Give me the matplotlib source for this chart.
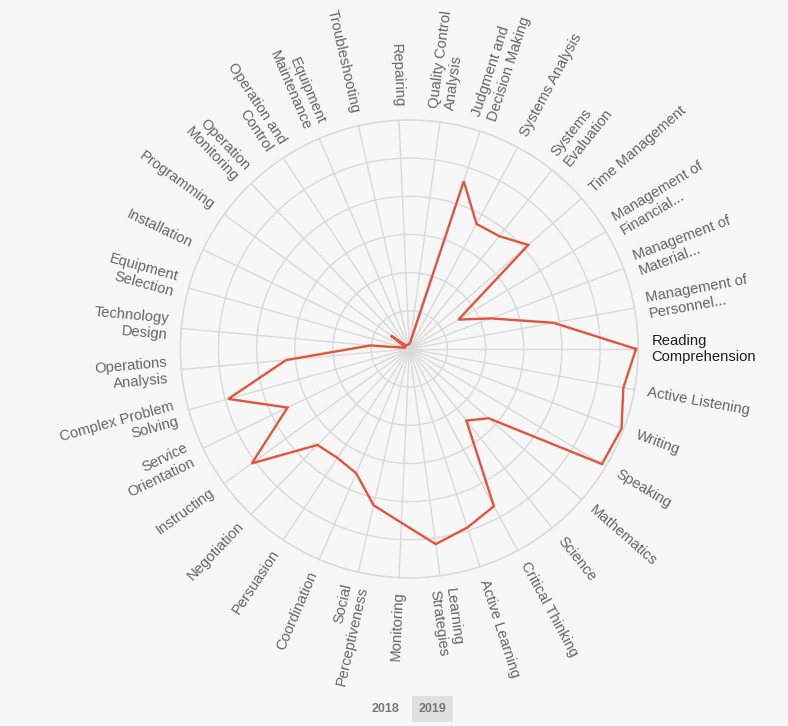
import numpy as np
import matplotlib
matplotlib.use('Agg')
import matplotlib.pyplot as plt

# skills, clockwise starting from the right
skills = ['Reading\nComprehension', 'Active Listening', 'Writing', 'Speaking', 'Mathematics',
          'Science', 'Critical Thinking', 'Active Learning', 'Learning\nStrategies', 'Monitoring',
          'Social\nPerceptiveness', 'Coordination', 'Persuasion', 'Negotiation', 'Instructing',
          'Service\nOrientation', 'Complex Problem\nSolving', 'Operations\nAnalysis',
          'Technology\nDesign', 'Equipment\nSelection', 'Installation', 'Programming',
          'Operation\nMonitoring', 'Operation and\nControl', 'Equipment\nMaintenance',
          'Troubleshooting', 'Repairing', 'Quality Control\nAnalysis',
          'Judgment and\nDecision Making', 'Systems Analysis', 'Systems\nEvaluation',
          'Time Management', 'Management of\nFinancial...', 'Management of\nMaterial...',
          'Management of\nPersonnel...']

# 2019 scores, as a fraction of the outer ring
values_2019 = [0.99, 0.95, 0.99, 0.98, 0.46,
               0.40, 0.78, 0.82, 0.86, 0.76,
               0.70, 0.59, 0.57, 0.58, 0.85,
               0.59, 0.82, 0.54, 0.17, 0.02,
               0.02, 0.10, 0.02, 0.02, 0.02,
               0.02, 0.02, 0.03, 0.77, 0.62,
               0.63, 0.69, 0.25, 0.38, 0.64]

years = ['2018', '2019']
active_year = '2019'

bg = '#f7f7f7'
grid_col = '#dadada'
line_col = '#e5533c'

fig = plt.figure(figsize=(7.88, 7.26), dpi=100, facecolor=bg)
ax = fig.add_axes([0.2288, 0.2039, 0.5812, 0.6309], projection='polar')
ax.set_facecolor(bg)
ax.set_theta_zero_location('E')
ax.set_theta_direction(-1)

n = len(skills)
theta = np.arange(n) * 2 * np.pi / n

ax.set_ylim(0, 1)
ax.set_yticks(np.arange(1, 7) / 6)
ax.set_yticklabels([])
ax.set_xticks(theta)
ax.set_xticklabels([])
ax.grid(color=grid_col, lw=1)
ax.spines['polar'].set_color(grid_col)
ax.spines['polar'].set_linewidth(1)

# close the polygon
t_closed = np.append(theta, theta[0])
v_closed = np.append(values_2019, values_2019[0])
ax.plot(t_closed, v_closed, color=line_col, lw=1.7, solid_joinstyle='miter', zorder=5)

# labels run along the spokes, flipped on the left half so they stay readable
for t, name in zip(theta, skills):
    deg = np.degrees(t)
    if 90 < deg < 270:
        rot, ha = 180 - deg, 'right'
    else:
        rot, ha = -deg, 'left'
    col = '#1e1e1e' if name.startswith('Reading') else '#666666'
    ax.text(t, 1.058, name, rotation=rot, rotation_mode='anchor', ha=ha, va='center',
            multialignment=ha, fontsize=10.6, color=col, family='Liberation Sans')

# year switch under the chart
xs = [385 / 788, 432.5 / 788]
for x, yr in zip(xs, years):
    box = None
    if yr == active_year:
        box = dict(boxstyle='square,pad=0.55', facecolor='#e0e0e0', edgecolor='none')
    fig.text(x, 1 - 709 / 726, yr, ha='center', va='center', fontsize=9, fontweight='bold',
             color='#777777', family='Liberation Sans', bbox=box)

fig.savefig('out.png', dpi=100, facecolor=bg)
